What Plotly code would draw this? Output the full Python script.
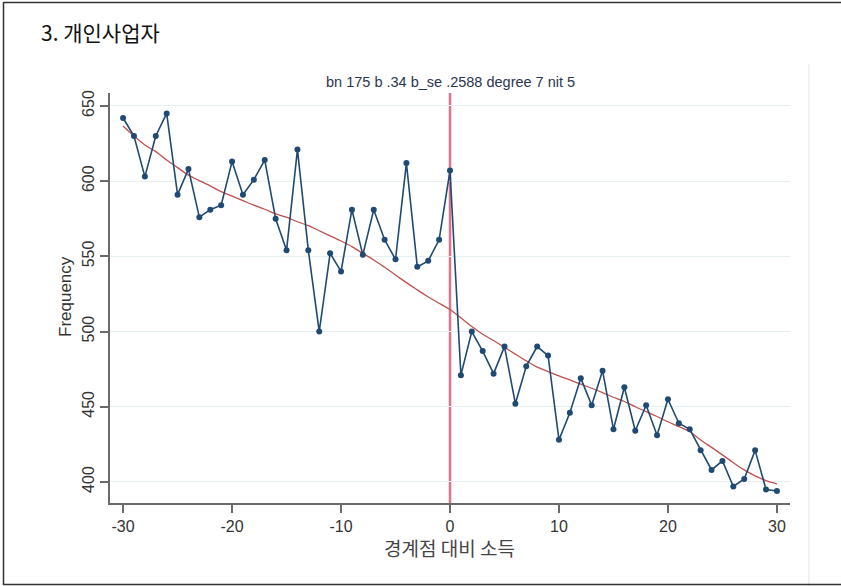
import plotly.graph_objects as go

# Income relative to the threshold (bins)
income_bins = list(range(-30, 31))

# Observed frequency per bin
frequency = [
    642, 630, 603, 630, 645, 591, 608, 576, 581, 584,
    613, 591, 601, 614, 575, 554, 621, 554, 500, 552,
    540, 581, 551, 581, 561, 548, 612, 543, 547, 561,
    607, 471, 500, 487, 472, 490, 452, 477, 490, 484,
    428, 446, 469, 451, 474, 435, 463, 434, 451, 431,
    455, 439, 435, 421, 408, 414, 397, 402, 421, 395,
    394,
]

# Fitted counterfactual (polynomial) per bin
fitted = [
    636.7, 630.0, 624.0, 619.6, 614.0, 609.0, 604.0, 600.3, 596.8, 593.0,
    590.0, 587.0, 584.0, 581.3, 578.2, 576.0, 573.0, 570.4, 567.0, 563.6,
    560.2, 556.5, 552.0, 547.6, 542.7, 537.6, 532.5, 527.7, 523.0, 518.8,
    514.6, 509.0, 503.3, 498.2, 494.0, 489.5, 485.0, 480.5, 476.3, 473.4,
    470.5, 467.8, 465.0, 462.3, 459.4, 456.3, 453.5, 450.0, 446.8, 443.5,
    440.0, 436.8, 433.5, 427.9, 423.0, 418.0, 412.8, 408.0, 404.0, 400.9,
    398.7,
]

x_ticks = [-30, -20, -10, 0, 10, 20, 30]
x_tick_labels = ["-30", "-20", "-10", "0", "10", "20", "30"]
y_ticks = [400, 450, 500, 550, 600, 650]
y_tick_labels = ["400", "450", "500", "550", "600", "650"]

title_text = "3. 개인사업자"
note_text = "bn 175 b .34 b_se .2588 degree 7 nit 5"
x_title = "경계점 대비 소득"
y_title = "Frequency"

NAVY = "#1f4a73"
CURVE = "#c0504d"
CUTOFF = "#e0738b"
AXIS = "#6a6a6a"
GRID = "#e6eff1"

# plot area geometry in pixels (used to place decorations in paper units)
L, R, T, B = 110, 790, 93, 503
W, H = R - L, B - T


def px(xp):
    return (xp - L) / W


def py(yp):
    return (B - yp) / H


fig = go.Figure()

fig.add_trace(go.Scatter(
    x=income_bins, y=fitted, mode="lines",
    line=dict(color=CURVE, width=1.3, shape="spline"),
    hoverinfo="skip", showlegend=False,
))

fig.add_trace(go.Scatter(
    x=income_bins, y=frequency, mode="lines+markers",
    line=dict(color=NAVY, width=1.6),
    marker=dict(color=NAVY, size=6),
    showlegend=False,
))

shapes = [
    # threshold line (drawn beneath the data)
    dict(type="line", xref="x", yref="paper", x0=0, x1=0, y0=0, y1=1,
         line=dict(color=CUTOFF, width=2.5), layer="below"),
    # graph region edge on the right
    dict(type="line", xref="paper", yref="paper", x0=px(809), x1=px(809),
         y0=py(64), y1=py(586), line=dict(color="#eef2f4", width=2)),
    # outer frame: left, top, bottom
    dict(type="line", xref="paper", yref="paper", x0=px(3.5), x1=px(3.5),
         y0=py(2), y1=py(585), line=dict(color="#333333", width=1.5)),
    dict(type="line", xref="paper", yref="paper", x0=px(3.5), x1=px(841),
         y0=py(2.5), y1=py(2.5), line=dict(color="#333333", width=1.5)),
    dict(type="line", xref="paper", yref="paper", x0=px(3.5), x1=px(841),
         y0=py(584.5), y1=py(584.5), line=dict(color="#333333", width=1.5)),
]

annotations = [
    dict(text=title_text, xref="paper", yref="paper", x=px(39), y=py(32),
         xanchor="left", yanchor="middle", showarrow=False,
         font=dict(family="Noto Sans CJK KR", size=21, color="#111111")),
    dict(text=note_text, xref="x", yref="paper", x=0, y=py(82),
         xanchor="center", yanchor="middle", showarrow=False,
         font=dict(family="Liberation Sans", size=14.5, color="#2a3550")),
    dict(text=y_title, xref="paper", yref="paper", x=px(65), y=py(297),
         xanchor="center", yanchor="middle", textangle=-90, showarrow=False,
         font=dict(family="Liberation Sans", size=17, color="#333333")),
    dict(text=x_title, xref="paper", yref="paper", x=px(449), y=py(547),
         xanchor="center", yanchor="middle", showarrow=False,
         font=dict(family="Noto Sans CJK KR", size=19, color="#444444")),
]

fig.update_layout(
    width=841, height=586,
    margin=dict(l=L, r=841 - R, t=T, b=586 - B),
    paper_bgcolor="white", plot_bgcolor="white",
    shapes=shapes, annotations=annotations,
    xaxis=dict(
        range=[-31.2, 31.2], tickvals=x_ticks, ticktext=x_tick_labels,
        ticks="outside", ticklen=8,
        tickwidth=1.5, tickcolor=AXIS, showline=True, linecolor=AXIS,
        linewidth=2, showgrid=False, zeroline=False,
        tickfont=dict(family="Liberation Sans", size=16, color="#333333"),
    ),
    yaxis=dict(
        range=[386.0, 658.6], tickvals=y_ticks, ticktext=y_tick_labels,
        ticks="outside", ticklen=8,
        tickwidth=1.5, tickcolor=AXIS, showline=True, linecolor=AXIS,
        linewidth=2, showgrid=True, gridcolor=GRID, gridwidth=1,
        zeroline=False, tickangle=-90,
        tickfont=dict(family="Liberation Sans", size=16, color="#333333"),
    ),
)

fig.write_html("out.html")
